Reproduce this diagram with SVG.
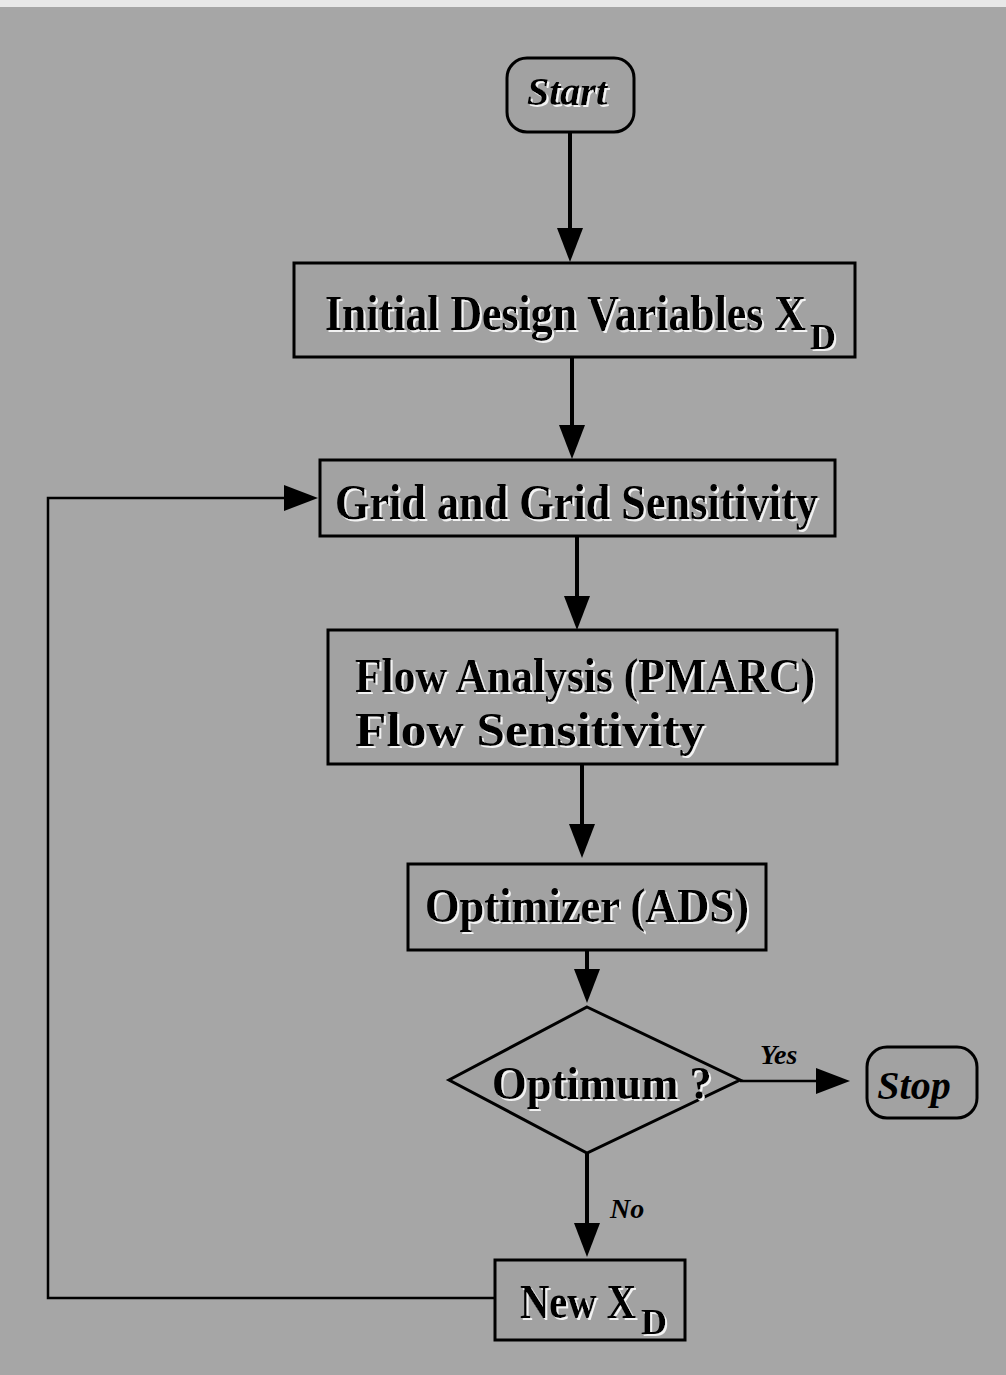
<svg xmlns="http://www.w3.org/2000/svg" width="1006" height="1375" viewBox="0 0 1006 1375">
<defs>
<style>
.box{fill:#a2a2a2;stroke:#000;stroke-width:3}
.t{font-family:"Liberation Serif","Times New Roman",serif;font-weight:bold;fill:#000}
.s{filter:url(#shadow)}
.it{font-style:italic}
.c{fill:none;stroke:#000;stroke-width:4}
.thin{fill:none;stroke:#000;stroke-width:2.5}
</style>
<filter id="shadow" x="-5%" y="-20%" width="110%" height="140%">
<feFlood flood-color="#f2f2f2" result="w"/>
<feComposite in="w" in2="SourceAlpha" operator="in" result="wa"/>
<feOffset in="wa" dx="2" dy="2" result="off"/>
<feMerge><feMergeNode in="off"/><feMergeNode in="SourceGraphic"/></feMerge>
</filter>
<marker id="ah" viewBox="0 0 34 26" refX="28" refY="13" markerWidth="34" markerHeight="26" markerUnits="userSpaceOnUse" orient="auto">
<path d="M0,0 L34,13 L0,26 Z" fill="#000"/>
</marker>
</defs>
<rect x="0" y="0" width="1006" height="1375" fill="#a6a6a6"/>
<rect x="0" y="0" width="1006" height="7" fill="#e8e8e8"/>

<g id="connectors">
<line class="c" x1="570" y1="132" x2="570" y2="256" marker-end="url(#ah)"/>
<line class="c" x1="572" y1="357" x2="572" y2="453" marker-end="url(#ah)"/>
<line class="c" x1="577" y1="536" x2="577" y2="624" marker-end="url(#ah)"/>
<line class="c" x1="582" y1="764" x2="582" y2="852" marker-end="url(#ah)"/>
<line class="c" x1="587" y1="950" x2="587" y2="997" marker-end="url(#ah)"/>
<line class="thin" x1="740" y1="1081" x2="844" y2="1081" marker-end="url(#ah)"/>
<line class="c" x1="587" y1="1153" x2="587" y2="1251" marker-end="url(#ah)"/>
<polyline class="thin" points="495,1298 48,1298 48,498 312,498" marker-end="url(#ah)"/>
<text class="t it" x="760" y="1064" font-size="28">Yes</text>
<text class="t it" x="610" y="1218" font-size="28">No</text>
</g>

<g id="start">
<rect class="box" x="507" y="58" width="127" height="74" rx="20"/>
<text class="t it s" x="567" y="105" font-size="40" text-anchor="middle">Start</text>
</g>

<g id="initial">
<rect class="box" x="294" y="263" width="561" height="94"/>
<text class="t s" x="325" y="330" font-size="50"><tspan textLength="481" lengthAdjust="spacingAndGlyphs">Initial Design Variables X</tspan><tspan x="810" dy="19" font-size="36">D</tspan></text>
</g>

<g id="grid">
<rect class="box" x="320" y="460" width="515" height="76"/>
<text class="t s" x="335" y="519" font-size="50" textLength="483" lengthAdjust="spacingAndGlyphs">Grid and Grid Sensitivity</text>
</g>

<g id="flow">
<rect class="box" x="328" y="630" width="509" height="134"/>
<text class="t s" x="355" y="692" font-size="48" textLength="460" lengthAdjust="spacingAndGlyphs">Flow Analysis (PMARC)</text>
<text class="t s" x="355" y="746" font-size="48" textLength="350" lengthAdjust="spacingAndGlyphs">Flow Sensitivity</text>
</g>

<g id="optimizer">
<rect class="box" x="408" y="864" width="358" height="86"/>
<text class="t s" x="425" y="922" font-size="48" textLength="324" lengthAdjust="spacingAndGlyphs">Optimizer (ADS)</text>
</g>

<g id="optimum">
<polygon class="box" points="587,1007 740,1080 587,1153 449,1080"/>
<text class="t s" x="492" y="1099" font-size="46" textLength="220" lengthAdjust="spacingAndGlyphs">Optimum ?</text>
</g>

<g id="stop">
<rect class="box" x="867" y="1047" width="110" height="71" rx="20"/>
<text class="t it" x="914" y="1099" font-size="40" text-anchor="middle">Stop</text>
</g>

<g id="newxd">
<rect class="box" x="495" y="1260" width="190" height="80"/>
<text class="t s" x="520" y="1318" font-size="48"><tspan textLength="116" lengthAdjust="spacingAndGlyphs">New X</tspan><tspan x="641" dy="16" font-size="36">D</tspan></text>
</g>
</svg>
